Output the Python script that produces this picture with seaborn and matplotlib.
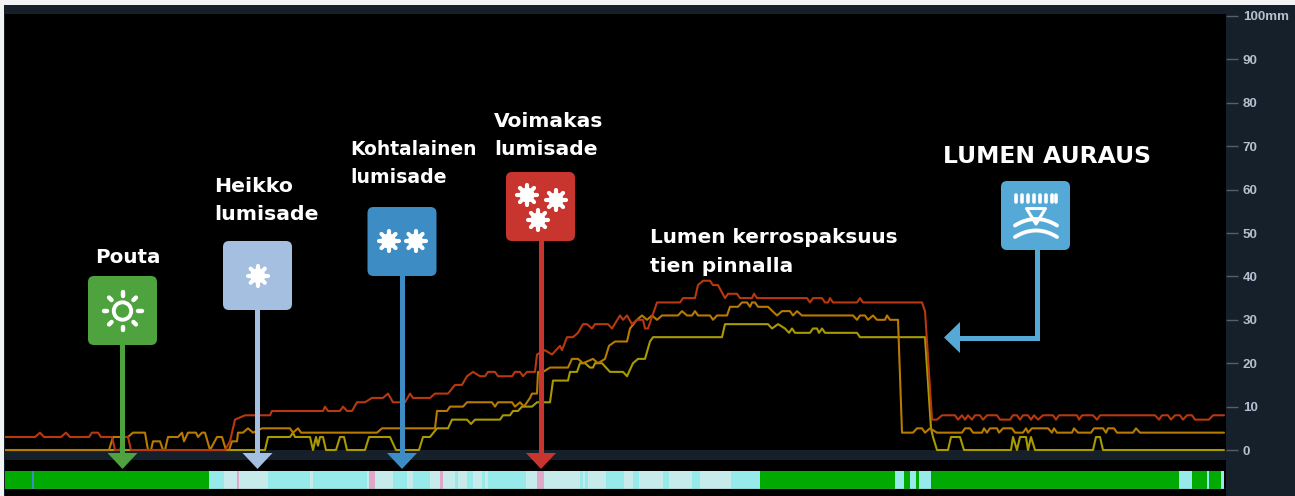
import numpy as np
import pandas as pd
import matplotlib
matplotlib.use('Agg')
import matplotlib.pyplot as plt
from matplotlib.patches import Rectangle, FancyBboxPatch, Polygon, Circle
import seaborn as sns

# snow depth sensors, x = position along the time axis, y = mm
red_x = [5, 35, 40, 44, 61, 66, 70, 89, 92, 98, 101, 112, 115, 120, 124, 128, 131, 225, 230, 235, 245, 270, 272, 323, 325, 328, 340, 343, 347, 352, 357, 365, 372, 383, 388, 393, 405, 410, 413, 430, 435, 448, 455, 462, 467, 473, 480, 485, 488, 495, 498, 512, 515, 520, 523, 527, 535, 537, 545, 552, 560, 562, 567, 573, 578, 583, 587, 592, 595, 608, 612, 620, 623, 627, 632, 637, 643, 645, 648, 657, 680, 683, 695, 698, 703, 710, 713, 718, 725, 728, 737, 740, 752, 754, 757, 807, 810, 813, 822, 825, 828, 830, 833, 857, 860, 863, 922, 925, 927, 932, 937, 942, 955, 958, 962, 965, 968, 972, 975, 980, 983, 987, 997, 1000, 1010, 1013, 1017, 1020, 1023, 1028, 1031, 1034, 1038, 1043, 1053, 1056, 1059, 1077, 1079, 1082, 1093, 1097, 1100, 1155, 1159, 1162, 1168, 1171, 1175, 1180, 1183, 1187, 1192, 1195, 1209, 1213, 1224]
red_mm = [3, 3, 4, 3, 3, 4, 3, 3, 4, 4, 3, 3, 0, 0, 3, 3, 0, 0, 2, 7, 8, 8, 9, 9, 10, 9, 9, 10, 9, 9, 11, 11, 12, 12, 13, 11, 11, 13, 12, 12, 13, 13, 15, 15, 17, 18, 17, 17, 18, 18, 17, 17, 18, 18, 17, 18, 18, 22, 23, 22, 24, 23, 26, 26, 27, 29, 29, 28, 29, 29, 28, 31, 30, 31, 29, 30, 30, 28, 28, 34, 34, 35, 35, 38, 39, 39, 38, 38, 35, 36, 36, 35, 35, 36, 35, 35, 34, 35, 35, 34, 34, 35, 34, 34, 35, 34, 34, 32, 25, 7, 7, 8, 8, 7, 8, 7, 8, 7, 8, 8, 7, 8, 8, 7, 7, 8, 8, 7, 8, 8, 7, 8, 7, 8, 8, 7, 8, 8, 7, 8, 8, 7, 8, 8, 7, 8, 8, 7, 8, 8, 7, 8, 8, 7, 7, 8, 8]
orange_x = [5, 109, 113, 128, 133, 145, 148, 151, 153, 160, 163, 165, 168, 178, 182, 184, 188, 192, 196, 198, 202, 205, 210, 217, 222, 226, 229, 232, 237, 238, 243, 248, 253, 262, 290, 293, 298, 301, 377, 382, 435, 437, 447, 450, 463, 467, 492, 495, 498, 512, 515, 520, 524, 530, 532, 537, 538, 543, 550, 568, 572, 578, 583, 593, 598, 605, 609, 615, 627, 630, 637, 642, 647, 652, 657, 662, 678, 682, 687, 692, 695, 698, 710, 713, 717, 727, 730, 738, 742, 747, 750, 752, 755, 758, 768, 777, 782, 790, 793, 797, 802, 853, 857, 860, 865, 868, 873, 877, 885, 887, 890, 898, 902, 913, 917, 922, 925, 930, 937, 962, 965, 970, 973, 982, 984, 987, 990, 997, 999, 1003, 1012, 1015, 1023, 1026, 1028, 1032, 1048, 1052, 1054, 1057, 1072, 1074, 1078, 1091, 1094, 1103, 1106, 1108, 1114, 1117, 1133, 1136, 1140, 1224]
orange_mm = [0, 0, 3, 3, 4, 4, 0, 0, 2, 2, 0, 0, 3, 3, 4, 2, 4, 4, 4, 3, 4, 4, 0, 3, 3, 0, 0, 2, 2, 4, 4, 5, 4, 5, 5, 4, 5, 4, 4, 5, 5, 9, 9, 10, 10, 11, 11, 10, 11, 11, 10, 11, 10, 12, 13, 13, 18, 18, 19, 19, 21, 21, 20, 21, 20, 21, 24, 25, 25, 28, 30, 31, 30, 31, 30, 31, 31, 32, 31, 31, 32, 31, 31, 30, 31, 31, 33, 33, 34, 34, 33, 34, 34, 33, 33, 31, 32, 32, 31, 32, 31, 31, 30, 31, 31, 30, 31, 30, 30, 31, 30, 30, 4, 4, 5, 5, 4, 5, 4, 4, 5, 5, 4, 4, 5, 4, 5, 5, 4, 5, 5, 4, 4, 5, 4, 5, 5, 4, 5, 4, 4, 5, 4, 4, 5, 5, 4, 5, 5, 4, 4, 5, 4, 4]
yellow_x = [5, 265, 268, 290, 293, 295, 307, 310, 313, 316, 318, 320, 323, 326, 336, 340, 344, 347, 365, 369, 390, 396, 419, 423, 430, 437, 448, 452, 467, 471, 475, 500, 503, 510, 513, 518, 522, 532, 537, 550, 553, 568, 570, 577, 580, 585, 590, 593, 595, 602, 610, 623, 627, 633, 638, 645, 650, 653, 722, 725, 768, 772, 778, 785, 789, 792, 795, 810, 813, 817, 819, 822, 825, 857, 860, 925, 931, 933, 937, 948, 951, 960, 964, 1011, 1013, 1017, 1020, 1026, 1028, 1031, 1035, 1093, 1096, 1100, 1103, 1224]
yellow_mm = [0, 0, 3, 3, 4, 3, 3, 3, 0, 3, 1, 3, 3, 0, 0, 3, 3, 0, 0, 3, 3, 0, 0, 3, 3, 5, 5, 7, 7, 6, 7, 7, 8, 8, 9, 9, 10, 10, 11, 11, 16, 16, 18, 18, 20, 20, 19, 19, 20, 20, 18, 18, 17, 20, 21, 21, 25, 26, 26, 29, 29, 28, 29, 28, 27, 28, 27, 27, 28, 28, 27, 28, 27, 27, 26, 26, 5, 3, 0, 0, 3, 3, 0, 0, 3, 0, 3, 3, 0, 3, 0, 0, 3, 3, 0, 0]

mm_ticks = [0, 10, 20, 30, 40, 50, 60, 70, 80, 90, 100]
mm_labels = ['0', '10', '20', '30', '40', '50', '60', '70', '80', '90', '100mm']

# weather state strip
strip_edges = [5, 32, 34, 209, 224, 237, 239, 268, 310, 313, 367, 369, 375, 393, 407, 413, 430, 440, 443, 455, 458, 467, 473, 482, 485, 488, 526, 537, 544, 580, 583, 585, 588, 606, 624, 633, 639, 663, 669, 692, 700, 731, 760, 895, 904, 910, 916, 919, 931, 1179, 1192, 1207, 1209, 1221, 1224]
strip_states = ['g', 'b', 'g', 'c', 'p', 'k', 'p', 'c', 'p', 'c', 'p', 'k', 'p', 'c', 'p', 'c', 'p', 'k', 'p', 'c', 'p', 'c', 'p', 'c', 'p', 'c', 'p', 'k', 'p', 'c', 'p', 'c', 'p', 'c', 'p', 'c', 'p', 'c', 'p', 'c', 'p', 'c', 'g', 'c', 'g', 'c', 'g', 'c', 'g', 'c', 'g', 'c', 'g', 'c']
state_colors = {'g': '#00aa00', 'b': '#3d8dc4', 'c': '#97eaea', 'p': '#c7eaea', 'k': '#e0a8c8'}

W, H = 1295, 496
PANEL = '#16202a'

df = pd.concat([
    pd.DataFrame({'x': yellow_x, 'mm': yellow_mm, 'sensor': 'yellow'}),
    pd.DataFrame({'x': orange_x, 'mm': orange_mm, 'sensor': 'orange'}),
    pd.DataFrame({'x': red_x, 'mm': red_mm, 'sensor': 'red'}),
])

sns.set_theme(style='dark')
plt.rcParams['font.family'] = ['DejaVu Sans']

fig = plt.figure(figsize=(W / 100, H / 100), dpi=100, facecolor='#f2f3f4')


def px_axes(x0, y0, x1, y1, **kw):
    return fig.add_axes([x0 / W, 1 - y1 / H, (x1 - x0) / W, (y1 - y0) / H], **kw)


# background panels
bg = px_axes(0, 0, W, H)
bg.set_xlim(0, W)
bg.set_ylim(H, 0)
bg.axis('off')
bg.add_patch(Rectangle((4, 5), W - 4, H - 5, color=PANEL, lw=0))
bg.add_patch(Rectangle((5, 14), 1221, H - 14, color='black', lw=0))
bg.add_patch(Rectangle((5, 450), 1221, 10, color=PANEL, lw=0))

# depth chart
ax = px_axes(5, 14, 1226, 460)
ax.patch.set_alpha(0)
sns.lineplot(data=df, x='x', y='mm', hue='sensor', estimator=None, sort=False, legend=False,
             palette={'red': '#b8380f', 'orange': '#b87a00', 'yellow': '#a89a00'},
             lw=1.5, solid_joinstyle='round', ax=ax)
ax.set_xlim(5, 1226)
ax.set_ylim(-2.3, 100.46)
ax.set_xlabel('')
ax.set_ylabel('')
ax.set_xticks([])
ax.yaxis.tick_right()
ax.set_yticks(mm_ticks)
ax.set_yticklabels(mm_labels, family='Liberation Sans', weight='bold', fontsize=9.6, color='#b4c0cf')
ax.tick_params(axis='y', length=8.6, width=1, color='#565e66', pad=3.5, right=True)
ax.grid(False)
for s in ax.spines.values():
    s.set_visible(False)

# weather strip
strip = px_axes(5, 471, 1226, 489)
strip.set_xlim(5, 1226)
strip.set_ylim(0, 1)
strip.axis('off')
strip.barh(0.5, np.diff(strip_edges), left=strip_edges[:-1], height=1,
           color=[state_colors[s] for s in strip_states], lw=0)
strip.axhline(0.02, color='#5c8f80', lw=1)

# annotations drawn in picture pixels
top = px_axes(0, 0, W, H)
top.set_xlim(0, W)
top.set_ylim(H, 0)
top.axis('off')
top.patch.set_alpha(0)


def box(x, y, color):
    top.add_patch(FancyBboxPatch((x + 6, y + 6), 57, 57, boxstyle='round,pad=6,rounding_size=6',
                                 fc=color, ec='none', zorder=3))


def stem(x, y0, color):
    top.add_patch(Rectangle((x - 2.5, y0), 5, 455 - y0, fc=color, ec='none', zorder=2))
    top.add_patch(Polygon([(x - 15, 453), (x + 15, 453), (x, 469)], fc=color, ec='none', zorder=2))


def flake(cx, cy, r=10):
    for a in np.arange(0, np.pi, np.pi / 4):
        dx, dy = r * np.cos(a + np.pi / 2), r * np.sin(a + np.pi / 2)
        top.plot([cx - dx, cx + dx], [cy - dy, cy + dy], color='white', lw=3,
                 solid_capstyle='round', zorder=4)
    top.add_patch(Circle((cx, cy), 7.5, fc='white', ec='none', zorder=4))


def label(x, y, s, size=13.2):
    top.text(x, y, s, color='white', fontsize=size, fontweight='bold', va='baseline', ha='left', zorder=5)


# Pouta
box(88, 276, '#4fa33e')
stem(122.5, 345, '#4fa33e')
top.add_patch(Circle((122.5, 311), 8.7, fc='none', ec='white', lw=2.8, zorder=4))
for a in np.arange(0, 2 * np.pi, np.pi / 4):
    top.plot([122.5 + 15.5 * np.cos(a), 122.5 + 19 * np.cos(a)],
             [311 + 15.5 * np.sin(a), 311 + 19 * np.sin(a)],
             color='white', lw=3.2, solid_capstyle='round', zorder=4)
label(95, 263, 'Pouta', size=14.3)

# Heikko
box(223, 241, '#a4bfdf')
stem(257.5, 310, '#a4bfdf')
flake(257.7, 275.7)
label(214, 192, 'Heikko', size=14.7)
label(214, 220, 'lumisade', size=14.7)

# Kohtalainen
box(367.5, 207, '#3d8dc4')
stem(402, 276, '#3d8dc4')
flake(388.5, 241)
flake(415.5, 241)
label(350, 155, 'Kohtalainen', size=13.4)
label(350, 183, 'lumisade', size=13.6)

# Voimakas
box(506, 172, '#c8352f')
stem(541, 241, '#c8352f')
flake(527, 195)
flake(556, 200)
flake(538, 220)
label(494, 127, 'Voimakas', size=14.6)
label(494, 155, 'lumisade', size=14.6)

label(650, 243, 'Lumen kerrospaksuus', size=14.4)
label(650, 272, 'tien pinnalla', size=14.5)

# Lumen auraus
BLUE = '#55a9d6'
box(1001, 181, BLUE)
top.plot([1036.5, 1036.5, 958], [250, 338, 338], color=BLUE, lw=3.6, solid_joinstyle='miter', zorder=2)
top.add_patch(Polygon([(944, 337.5), (960, 322), (960, 353)], fc=BLUE, ec='none', zorder=2))
for x in [1016, 1022, 1028, 1034, 1040, 1046, 1052, 1056]:
    top.plot([x, x], [195, 202], color='white', lw=2.6, solid_capstyle='round', zorder=4)
top.add_patch(Polygon([(1026.5, 208.5), (1045.5, 208.5), (1036, 224)], fc='none', ec='white', lw=2.2,
                      joinstyle='round', zorder=4))
arc_x = np.linspace(1015, 1057, 30)
top.plot(arc_x, 219 + 6.5 * ((arc_x - 1036) / 21) ** 2, color='white', lw=2.8, solid_capstyle='round', zorder=4)
top.plot(arc_x, 230.5 + 6.5 * ((arc_x - 1036) / 21) ** 2, color='white', lw=2.8, solid_capstyle='round', zorder=4)
label(943, 163, 'LUMEN AURAUS', size=16.9)

fig.savefig('out.png', dpi=100, facecolor=fig.get_facecolor())
